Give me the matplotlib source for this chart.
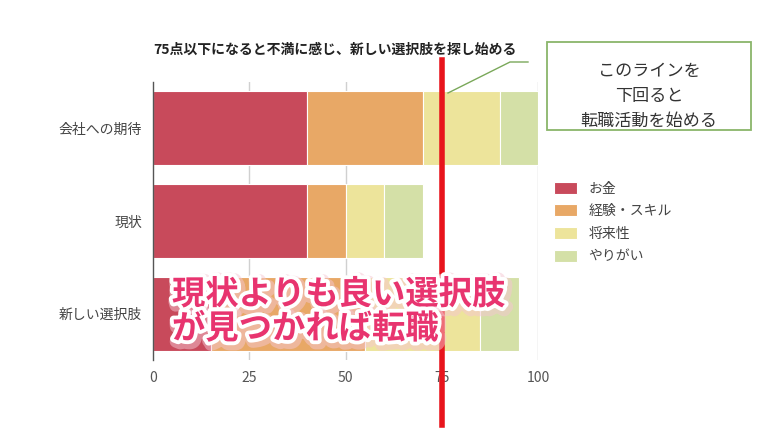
import numpy as np
import matplotlib
matplotlib.use("Agg")
import matplotlib.pyplot as plt
import matplotlib.patheffects as pe
from matplotlib.lines import Line2D
from matplotlib.patches import Rectangle

plt.rcParams["font.family"] = ["Noto Sans CJK JP", "DejaVu Sans"]

# data
categories = ["会社への期待", "現状", "新しい選択肢"]
series = ["お金", "経験・スキル", "将来性", "やりがい"]
money = [40, 40, 15]
skill = [30, 10, 40]
future = [20, 10, 30]
worth = [10, 10, 10]
colors = ["#c84a5b", "#e8a866", "#ede49b", "#d4e0a7"]
threshold = 75
xticks = [0, 25, 50, 75, 100]
title = "75点以下になると不満に感じ、新しい選択肢を探し始める"
note = "このラインを\n下回ると\n転職活動を始める"
overlay = "現状よりも良い選択肢\nが見つかれば転職"

fig = plt.figure(figsize=(7.8, 4.36), dpi=100)
ax = fig.add_axes([153 / 780, 1 - 360 / 436, 385 / 780, 278 / 436])

y = np.arange(len(categories))
left = np.zeros(len(categories))
for name, vals, c in zip(series, [money, skill, future, worth], colors):
    ax.barh(y, vals, left=left, height=0.8, color=c, edgecolor="white",
            linewidth=0.8, label=name, zorder=2)
    left += np.array(vals)

ax.set_xlim(0, 100)
ax.set_ylim(len(categories) - 0.5, -0.5)
ax.set_xticks(xticks)
ax.set_xticklabels([str(t) for t in xticks], color="#555555", fontsize=10)
ax.set_yticks(y)
ax.set_yticklabels(categories, color="#444444", fontsize=10)
ax.tick_params(length=0, pad=8)
for t in xticks[1:]:
    ax.axvline(t, color="#d0d0d0", linewidth=1, zorder=1)
for s in ["top", "right", "bottom"]:
    ax.spines[s].set_visible(False)
ax.spines["left"].set_color("#555555")
ax.spines["left"].set_linewidth(1)

fig.text(153 / 780, 1 - 50 / 436, title, fontsize=10, fontweight="bold",
         color="#222222", va="center", ha="left")

# threshold line
ax.plot([threshold, threshold], [1.079, -0.234],
        transform=ax.get_xaxis_transform(), color="#e8141c", linewidth=4,
        clip_on=False, zorder=6)

# callout
fig.add_artist(Line2D([448 / 780, 510 / 780, 528 / 780],
                      [1 - 93 / 436, 1 - 62 / 436, 1 - 62 / 436],
                      color="#7aa85a", linewidth=1))
fig.add_artist(Rectangle((547 / 780, 1 - 130 / 436), 204 / 780, 88 / 436,
                         fill=True, facecolor="white", edgecolor="#8ab56a",
                         linewidth=1.3))
fig.text(649 / 780, 1 - 96 / 436, note, fontsize=12.3, color="#333333",
         ha="center", va="center", linespacing=1.5)

# legend
ax.legend(loc="upper left", bbox_to_anchor=(548 / 780, 1 - 176 / 436),
          bbox_transform=fig.transFigure, frameon=False, fontsize=10,
          handlelength=1.7, handleheight=0.95, labelspacing=0.62,
          labelcolor="#444444", borderaxespad=0)

# overlay message
fig.text(172 / 780, 1 - 312 / 436, overlay, fontsize=24, fontweight="bold",
         color="#e8346f", ha="left", va="center", linespacing=1.05, zorder=10,
         path_effects=[pe.Stroke(linewidth=9, foreground="#f5c6d2", alpha=0.5,
                                 offset=(1.5, -2)),
                       pe.Stroke(linewidth=5.5, foreground="white"),
                       pe.Normal()])

fig.savefig("out.png", dpi=100)
